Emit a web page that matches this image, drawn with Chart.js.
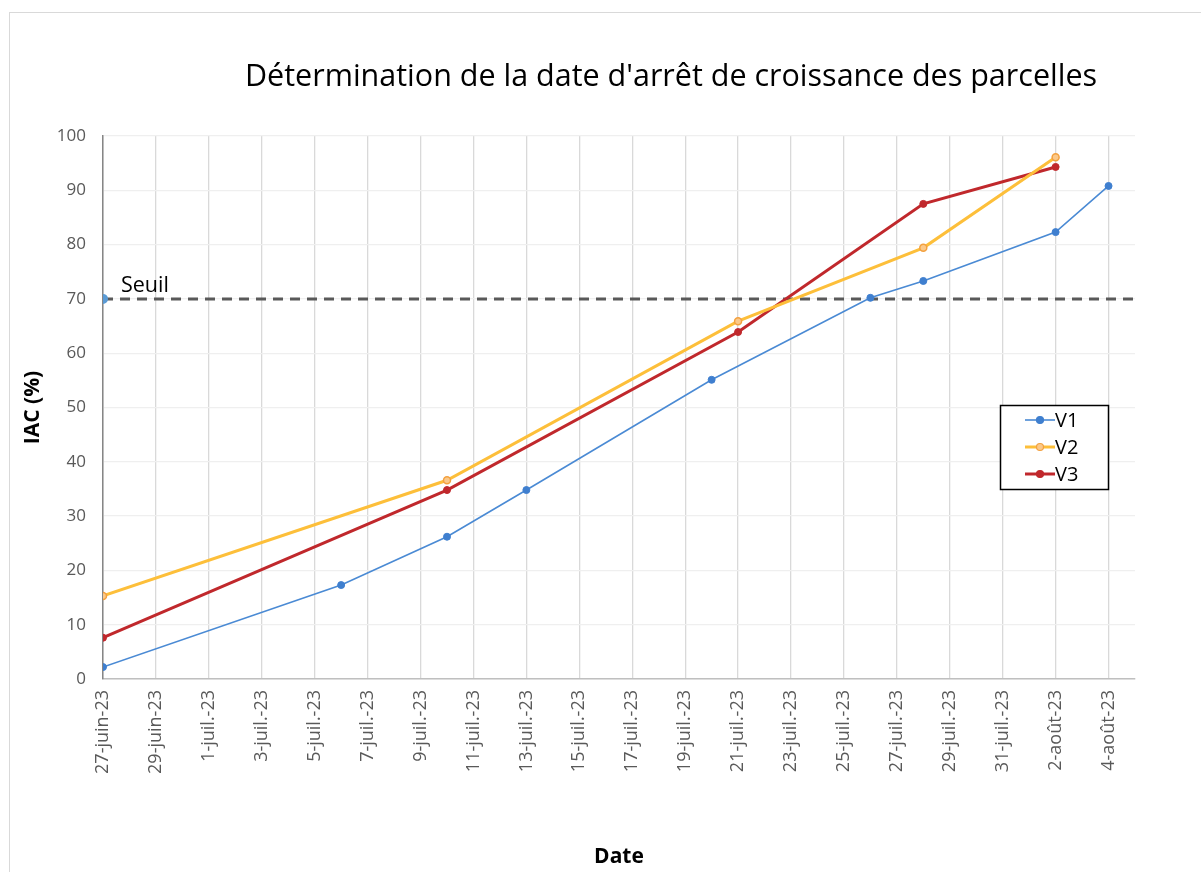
<!DOCTYPE html>
<html>
<head>
<meta charset="utf-8">
<script src="https://cdn.jsdelivr.net/npm/chart.js@4.4.0/dist/chart.umd.min.js"></script>
<style>
  html, body { margin: 0; padding: 0; background: #fff; }
  #wrap { position: relative; width: 1201px; height: 872px; overflow: hidden; }
  #frame { position: absolute; left: 9px; top: 12px; width: 1400px; height: 1000px; border: 1px solid #d9d9d9; box-sizing: border-box; }
  canvas { position: absolute; left: 0; top: 0; }
</style>
</head>
<body>
<div id="wrap">
  <div id="frame"></div>
  <canvas id="c" width="1201" height="872"></canvas>
</div>
<script>
// ---- data ----
const chartTitle = "Détermination de la date d'arrêt de croissance des parcelles";
const xTitle = "Date";
const yTitle = "IAC (%)";
const startDate = "2023-06-27";
const endDate = "2023-08-05";
const v1Dates = ["2023-06-27","2023-07-06","2023-07-10","2023-07-13","2023-07-20","2023-07-26","2023-07-28","2023-08-02","2023-08-04"];
const v1Values = [2.2, 17.3, 26.2, 34.8, 55.1, 70.2, 73.3, 82.3, 90.8];
const v23Dates = ["2023-06-27","2023-07-10","2023-07-21","2023-07-28","2023-08-02"];
const v2Values = [15.3, 36.6, 65.9, 79.4, 96.1];
const v3Values = [7.6, 34.8, 63.9, 87.5, 94.3];
const seuilValue = 70;
const seuilLabel = "Seuil";
const yTicks = [0,10,20,30,40,50,60,70,80,90,100];
const monthNames = {6: "juin", 7: "juil.", 8: "août"};

// ---- helpers ----
const DAY = 86400000;
const t0 = Date.parse(startDate + "T00:00:00Z");
const dayOf = s => Math.round((Date.parse(s + "T00:00:00Z") - t0) / DAY);
const fmt = d => {
  const dt = new Date(t0 + d * DAY);
  return dt.getUTCDate() + "-" + monthNames[dt.getUTCMonth() + 1] + "-" + String(dt.getUTCFullYear()).slice(2);
};
const pts = (dates, vals) => dates.map((d, i) => ({x: dayOf(d), y: vals[i]}));
const xMax = dayOf(endDate);

const FONT = "'Open Sans', Lato, sans-serif";

const overlay = {
  id: 'overlay',
  afterDraw(chart) {
    const ctx = chart.ctx;
    const xs = chart.scales.x, ys = chart.scales.y;
    ctx.save();
    // title
    ctx.fillStyle = '#000';
    ctx.font = "30.5px " + FONT;
    ctx.textAlign = 'center';
    ctx.textBaseline = 'middle';
    ctx.fillText(chartTitle, 671, 77);
    // seuil label
    ctx.font = "21.5px " + FONT;
    ctx.textAlign = 'left';
    ctx.textBaseline = 'bottom';
    ctx.fillText(seuilLabel, xs.getPixelForValue(0) + 18, ys.getPixelForValue(seuilValue) - 2);
    // legend
    const lx = 1000, ly = 405, lw = 108, lh = 84;
    ctx.fillStyle = '#fff';
    ctx.fillRect(lx, ly, lw, lh);
    ctx.strokeStyle = '#000';
    ctx.lineWidth = 1.5;
    ctx.strokeRect(lx + 0.5, ly + 0.5, lw, lh);
    const items = chart.data.datasets.filter(d => d.inLegend);
    items.forEach((ds, i) => {
      const cy = ly + 15 + i * 27;
      ctx.strokeStyle = ds.borderColor;
      ctx.lineWidth = ds.borderWidth;
      ctx.beginPath(); ctx.moveTo(lx + 25, cy); ctx.lineTo(lx + 55, cy); ctx.stroke();
      ctx.beginPath(); ctx.arc(lx + 40, cy, 3.5, 0, Math.PI * 2);
      ctx.fillStyle = ds.pointBackgroundColor; ctx.fill();
      ctx.lineWidth = 1.2; ctx.strokeStyle = ds.pointBorderColor; ctx.stroke();
      ctx.fillStyle = '#000';
      ctx.font = "20px " + FONT;
      ctx.textBaseline = 'middle';
      ctx.fillText(ds.label, lx + 55, cy + 1);
    });
    ctx.restore();
  }
};

new Chart(document.getElementById('c'), {
  type: 'line',
  data: {
    datasets: [
      { label: 'V1', inLegend: true, data: pts(v1Dates, v1Values), borderColor: '#4a8ad4', borderWidth: 1.6,
        pointRadius: 3.5, pointBackgroundColor: '#3f7fcf', pointBorderColor: '#3f7fcf', pointBorderWidth: 1 },
      { label: 'V2', inLegend: true, data: pts(v23Dates, v2Values), borderColor: '#fdbf3a', borderWidth: 3,
        pointRadius: 3.5, pointBackgroundColor: '#fbc98a', pointBorderColor: '#f3a140', pointBorderWidth: 1.5 },
      { label: 'V3', inLegend: true, data: pts(v23Dates, v3Values), borderColor: '#c0282c', borderWidth: 3,
        pointRadius: 3.5, pointBackgroundColor: '#c0282c', pointBorderColor: '#c0282c', pointBorderWidth: 1 },
      { label: seuilLabel, inLegend: false, data: [{x: 0, y: seuilValue}, {x: xMax, y: seuilValue}],
        borderColor: '#595959', borderWidth: 3, borderDash: [10, 7],
        pointRadius: [3.5, 0], pointBackgroundColor: '#5b9bd5', pointBorderColor: '#5b9bd5' }
    ]
  },
  options: {
    responsive: false,
    animation: false,
    layout: { padding: { top: 136, right: 66, left: 0, bottom: 0 } },
    plugins: { legend: { display: false }, tooltip: { enabled: false }, title: { display: false } },
    scales: {
      x: {
        type: 'linear', min: 0, max: xMax,
        afterBuildTicks: s => { const t = []; for (let d = 0; d < xMax; d += 2) t.push({value: d}); s.ticks = t; },
        afterFit: s => { s.height = 193; },
        grid: { color: '#d9d9d9', lineWidth: 1.3, drawTicks: false },
        border: { color: '#bfbfbf', width: 1.5 },
        ticks: { autoSkip: false, minRotation: 90, maxRotation: 90, padding: 11, color: '#595959',
                 font: { family: FONT, size: 18 }, callback: v => fmt(v) },
        title: { display: true, text: xTitle, color: '#000', font: { family: FONT, size: 21, weight: 'bold' },
                 padding: { top: 0, bottom: 2 } }
      },
      y: {
        min: 0, max: 100,
        afterBuildTicks: s => { s.ticks = yTicks.map(v => ({value: v})); },
        afterFit: s => { s.width = 103; },
        grid: { color: '#efefef', lineWidth: 1.3, drawTicks: false },
        border: { color: '#868686', width: 1.5 },
        ticks: { padding: 17, color: '#595959', font: { family: FONT, size: 17 } },
        title: { display: true, text: yTitle, color: '#000', font: { family: FONT, size: 21, weight: 'bold' },
                 padding: { top: 20, bottom: 0 } }
      }
    }
  },
  plugins: [overlay]
});
</script>
</body>
</html>
